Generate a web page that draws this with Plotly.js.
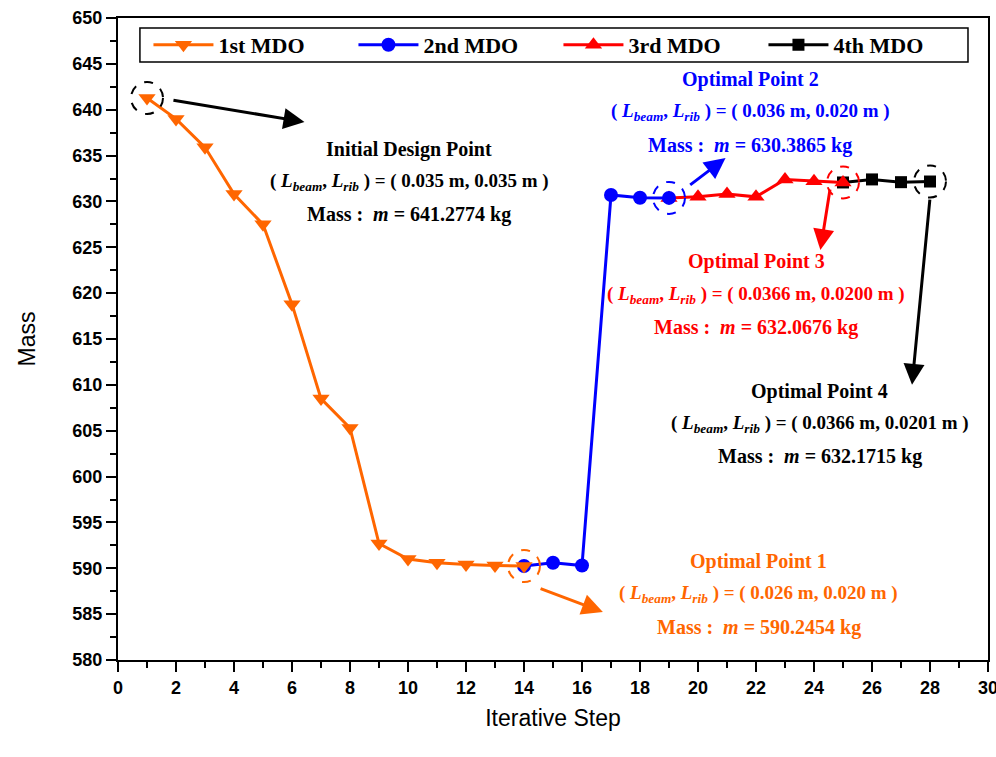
<!DOCTYPE html>
<html>
<head>
<meta charset="utf-8">
<script src="https://cdn.plot.ly/plotly-3.0.1.min.js"></script>
<style>html,body{margin:0;padding:0;background:#fff;}#chart{width:996px;height:757px;}</style>
</head>
<body>
<div id="chart"></div>
<script>
// Data
const steps1 = [1,2,3,4,5,6,7,8,9,10,11,12,13,14];
const mass1 = [641.2774,639.0,635.9,630.8,627.5,618.8,608.5,605.3,592.7,591.0,590.6,590.4,590.3,590.2454];
const steps2 = [14,15,16,17,18,19];
const mass2 = [590.2454,590.6,590.3,630.7,630.4,630.3865];
const steps3 = [19,20,21,22,23,24,25];
const mass3 = [630.3865,630.5,630.8,630.5,632.4,632.2,632.0676];
const steps4 = [25,26,27,28];
const mass4 = [632.0676,632.4,632.1,632.1715];
const seriesNames = ["1st MDO","2nd MDO","3rd MDO","4th MDO"];

const ORANGE = "#FF6600", BLUE = "#0000FF", RED = "#FF0000", BLACK = "#000000";
const serif = "Liberation Serif, Times New Roman, serif";

function trace(x, y, name, color, symbol, size, rank) {
  return {x: x, y: y, name: name, type: "scatter", mode: "lines+markers", legendrank: rank,
    line: {color: color, width: 3},
    marker: {color: color, symbol: symbol, size: size}};
}
// drawn back-to-front so overlapping markers stack as in the reference
const data = [
  trace(steps4, mass4, seriesNames[3], BLACK, "square", 12, 4),
  trace(steps3, mass3, seriesNames[2], RED, "triangle-up", 15, 3),
  trace(steps2, mass2, seriesNames[1], BLUE, "circle", 14, 2),
  trace(steps1, mass1, seriesNames[0], ORANGE, "triangle-down", 15, 1)
];

// dashed circles at key points
const circlePts = [
  [steps1[0], mass1[0], BLACK],
  [steps1[13], mass1[13], ORANGE],
  [steps2[5], mass2[5], BLUE],
  [steps3[6], mass3[6], RED],
  [steps4[3], mass4[3], BLACK]
];
const shapes = circlePts.map(p => ({
  type: "circle", xref: "x", yref: "y", xsizemode: "pixel", ysizemode: "pixel",
  xanchor: p[0], yanchor: p[1], x0: -16, x1: 16, y0: -16, y1: 16,
  line: {color: p[2], width: 2, dash: "dash"}
}));
// legend frame
shapes.push({type: "rect", xref: "paper", yref: "paper", x0: 0.0252, x1: 0.977, y0: 0.9315, y1: 0.9844,
  line: {color: BLACK, width: 1.5}, fillcolor: "rgba(0,0,0,0)", layer: "above"});

function arrow(x0, y0, x1, y1, color) {
  return {x: x1, y: y1, ax: x0, ay: y0, xref: "x", yref: "y", axref: "x", ayref: "y",
    text: "", showarrow: true, arrowhead: 2, arrowsize: 1.4, arrowwidth: 3, arrowcolor: color};
}
function txt(x, y, text, color, size) {
  return {x: x, y: y, xref: "x", yref: "y", text: text, showarrow: false,
    font: {family: serif, size: size, color: color}, xanchor: "center", yanchor: "middle"};
}
const Lpair = "<b>(</b> <b><i>L</i></b><sub><b><i>beam</i></b></sub><b>, <i>L</i></b><sub><b><i>rib</i></b></sub> <b>) = ( ";
function block(x, yTop, title, v1, v2, massStr, color) {
  return [
    txt(x, yTop, "<b>" + title + "</b>", color, 20),
    txt(x, yTop - 3.55, Lpair + v1 + " m, " + v2 + " m )</b>", color, 19),
    txt(x, yTop - 7.15, "<b>Mass :  <i>m</i> = " + massStr + " kg</b>", color, 20)
  ];
}

const annotations = [
  arrow(1.86, 641.06, 6.43, 638.66, BLACK),
  arrow(14.52, 587.85, 16.72, 585.23, ORANGE),
  arrow(19.68, 631.68, 20.95, 634.73, BLUE),
  arrow(24.56, 631.46, 24.22, 624.7, RED),
  arrow(28.0, 630.37, 27.38, 610.0, BLACK),
  ...block(10.05, 635.7, "Initial Design Point", "0.035", "0.035", "641.2774", BLACK),
  ...block(21.8, 643.3, "Optimal Point 2", "0.036", "0.020", "630.3865", BLUE),
  ...block(22.0, 623.4, "Optimal Point 3", "0.0366", "0.0200", "632.0676", RED),
  ...block(24.2, 609.3, "Optimal Point 4", "0.0366", "0.0201", "632.1715", BLACK),
  ...block(22.1, 590.7, "Optimal Point 1", "0.026", "0.020", "590.2454", ORANGE)
];

const axisCommon = {
  showline: true, linecolor: BLACK, linewidth: 2, mirror: true,
  ticks: "outside", ticklen: 10, tickwidth: 2, tickcolor: BLACK,
  showgrid: false, zeroline: false, ticklabeloverflow: "allow",
  tickfont: {family: "Liberation Sans, Arial, sans-serif", size: 18, color: BLACK, weight: "bold"}
};

const layout = {
  width: 996, height: 757,
  margin: {l: 118, r: 8, t: 18, b: 97},
  paper_bgcolor: "#fff", plot_bgcolor: "#fff",
  showlegend: true,
  legend: {orientation: "h", x: 0.035, y: 0.958, xanchor: "left", yanchor: "middle",
    borderwidth: 0, bgcolor: "rgba(0,0,0,0)", traceorder: "normal",
    font: {family: serif, size: 22, color: BLACK, weight: "bold"},
    itemwidth: 60, entrywidth: 130},
  xaxis: Object.assign({}, axisCommon, {
    range: [0, 30], dtick: 2, tick0: 0,
    minor: {dtick: 1, ticks: "outside", ticklen: 6, tickwidth: 2, tickcolor: BLACK},
    title: {text: "Iterative Step", standoff: 13,
      font: {family: "Liberation Sans Narrow, Arial Narrow, Liberation Sans, sans-serif", size: 23, color: BLACK}}
  }),
  yaxis: Object.assign({}, axisCommon, {
    range: [580, 650], dtick: 5, tick0: 580,
    minor: {dtick: 2.5, ticks: "outside", ticklen: 6, tickwidth: 2, tickcolor: BLACK},
    title: {text: "Mass", standoff: 30,
      font: {family: "Liberation Sans Narrow, Arial Narrow, Liberation Sans, sans-serif", size: 23, color: BLACK}}
  }),
  shapes: shapes,
  annotations: annotations
};

Plotly.newPlot("chart", data, layout, {displayModeBar: false, responsive: false});
</script>
</body>
</html>
